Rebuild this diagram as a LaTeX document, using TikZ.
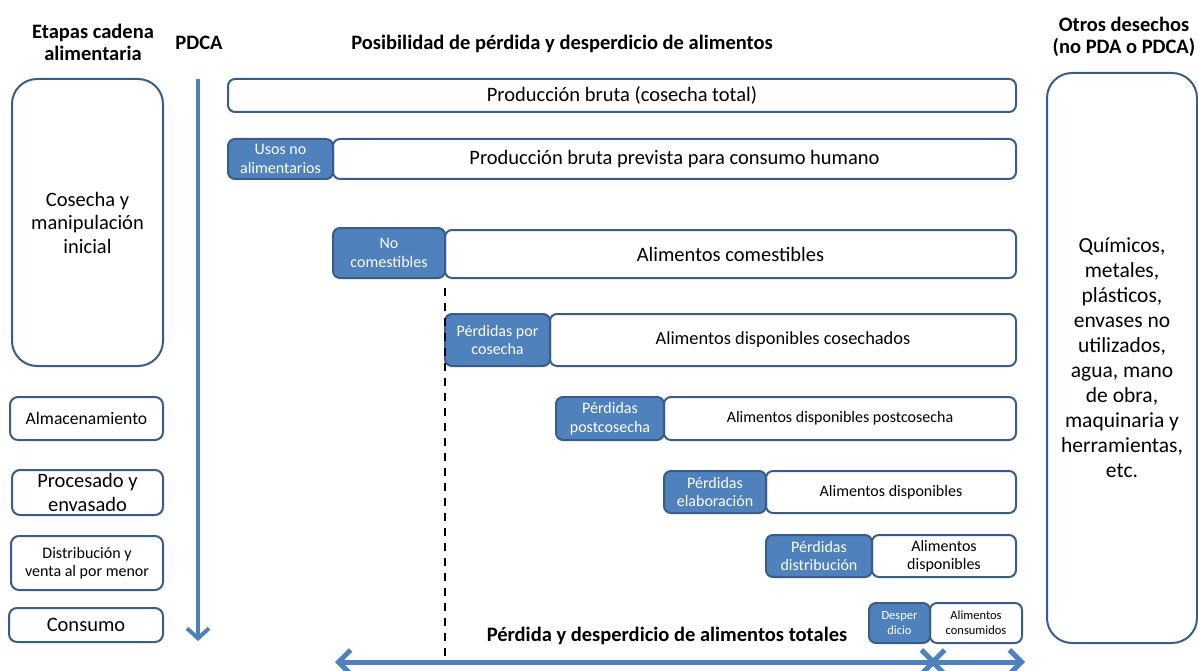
\documentclass[tikz,border=0pt]{standalone}
\usepackage{fontspec}
\setmainfont{Carlito}
\usepackage{tikz}
\usetikzlibrary{arrows.meta, positioning}
\usepackage{xcolor}
\definecolor{steelblue}{RGB}{79,129,189}
\definecolor{darksteelblue}{RGB}{56,93,138}
\tikzset{whitebarnode/.style={rectangle, rounded corners=7pt, fill=white, draw=darksteelblue, line width=2pt, inner sep=0pt, align=center},bluebarnode/.style={rectangle, rounded corners=7pt, fill=steelblue, draw=darksteelblue, line width=2pt, inner sep=0pt, align=center, text=white}}
\tikzset{stagenode/.style={rectangle, rounded corners=8pt, fill=white, draw=darksteelblue, line width=2pt, inner sep=0pt, align=center}}
\newcommand{\titlefont}{\fontsize{20.5}{22}\selectfont\bfseries}
\newcommand{\bigfont}{\fontsize{20.5}{23.5}\selectfont}
\newcommand{\rightfont}{\fontsize{21.5}{25}\selectfont}
\newcommand{\stagefont}{\fontsize{17.6}{20}\selectfont}
\newcommand{\midfont}{\fontsize{18.4}{21}\selectfont}
\newcommand{\smallfont}{\fontsize{16}{18.5}\selectfont}
\newcommand{\tinyfont}{\fontsize{12.5}{15}\selectfont}

\begin{document}
\begin{tikzpicture}[
        x=1pt, y=-1pt,
        line join=round,
        pdcaarrow/.style={steelblue, line width=4pt, -{Straight Barb[length=10pt, width=22pt]}},
        totalarrow/.style={steelblue, line width=5pt, {Straight Barb[length=12pt, width=24pt]}-{Straight Barb[length=12pt, width=24pt]}},
        edibleline/.style={black, line width=2pt, dash pattern=on 8pt off 7pt},
    ]
        \useasboundingbox (0,0) rectangle (1198,671);
        % Headers
        \node[font=\titlefont, align=center] (stagehead) at (93,42) {Etapas cadena\\alimentaria};
        \node[font=\titlefont] (pdcahead) at (199,43) {PDCA};
        \node[font=\titlefont] (losshead) at (562,44) {Posibilidad de pérdida y desperdicio de alimentos};
        \node[font=\titlefont, align=center] (otherhead) at (1124,37) {Otros desechos\\(no PDA o PDCA)};
        % Stages
        \node[stagenode, minimum width=151pt, minimum height=287pt, rounded corners=25pt, font=\bigfont] (harvest) at (87.5,222.5) {Cosecha y\\manipulación\\inicial};
        \node[stagenode, minimum width=153pt, minimum height=43pt, font=\stagefont] (storage) at (86.5,418.5) {Almacenamiento};
        \node[stagenode, minimum width=151pt, minimum height=45pt, font=\bigfont] (processing) at (87.5,492.5) {Procesado y\\envasado};
        \node[stagenode, minimum width=152pt, minimum height=54pt, font=\smallfont] (retail) at (87,563) {Distribución y\\venta al por menor};
        \node[stagenode, minimum width=154pt, minimum height=34pt, font=\bigfont] (consumption) at (86,625) {Consumo};
        % PDCA arrow
        \coordinate (pdcastart) at (198,79);
        \coordinate (pdcaend) at (198,641);
        \draw[pdcaarrow] (pdcastart) -- (pdcaend);
        % Bars
        \node[whitebarnode, minimum width=788pt, minimum height=33pt, font=\bigfont] (grossprod) at (622,95.5) {Producción bruta (cosecha total)};
        \node[whitebarnode, minimum width=683pt, minimum height=40pt, font=\bigfont] (humanprod) at (674.5,159) {Producción bruta prevista para consumo humano};
        \node[bluebarnode, minimum width=105pt, minimum height=40pt, font=\smallfont] (nonfood) at (280.5,159) {Usos no\\alimentarios};
        \node[whitebarnode, minimum width=571pt, minimum height=48pt, font=\bigfont] (edible) at (730.5,254) {Alimentos comestibles};
        \node[bluebarnode, minimum width=112pt, minimum height=50pt, font=\smallfont] (inedible) at (389,253) {No\\comestibles};
        \node[whitebarnode, minimum width=466pt, minimum height=52pt, font=\midfont] (harvested) at (783,340) {Alimentos disponibles cosechados};
        \node[bluebarnode, minimum width=105pt, minimum height=52pt, font=\smallfont] (harvestloss) at (497.5,340) {Pérdidas por\\cosecha};
        \node[whitebarnode, minimum width=352pt, minimum height=43pt, font=\smallfont] (postharvest) at (840,418.5) {Alimentos disponibles postcosecha};
        \node[bluebarnode, minimum width=108pt, minimum height=43pt, font=\smallfont] (postharvestloss) at (610,418.5) {Pérdidas\\postcosecha};
        \node[whitebarnode, minimum width=250pt, minimum height=42pt, font=\smallfont] (processed) at (891,492) {Alimentos disponibles};
        \node[bluebarnode, minimum width=102pt, minimum height=42pt, font=\smallfont] (processloss) at (715,492) {Pérdidas\\elaboración};
        \node[whitebarnode, minimum width=144pt, minimum height=42pt, font=\smallfont] (distributed) at (944,556) {Alimentos\\disponibles};
        \node[bluebarnode, minimum width=106pt, minimum height=42pt, font=\smallfont] (distloss) at (819,556) {Pérdidas\\distribución};
        \node[whitebarnode, minimum width=92pt, minimum height=40pt, font=\tinyfont] (consumed) at (976,623) {Alimentos\\consumidos};
        \node[bluebarnode, minimum width=61pt, minimum height=40pt, font=\tinyfont] (waste) at (899.5,623) {Desper\\dicio};
        % Other waste
        \node[stagenode, minimum width=150pt, minimum height=570pt, rounded corners=25pt, font=\rightfont] (otherwaste) at (1122,358) {Químicos,\\metales,\\plásticos,\\envases no\\utilizados,\\agua, mano\\de obra,\\maquinaria y\\herramientas,\\etc.};
        % Totals
        \node[font=\titlefont] (totalloss) at (667,636) {Pérdida y desperdicio de alimentos totales};
        \coordinate (ediblestart) at (445,288);
        \coordinate (edibleend) at (445,660);
        \draw[edibleline] (ediblestart) -- (edibleend);
        \coordinate (lossleft) at (335,662);
        \coordinate (lossright) at (937,662);
        \coordinate (consleft) at (929,662);
        \coordinate (consright) at (1025,662);
        \draw[totalarrow] (lossleft) -- (lossright);
        \draw[totalarrow] (consleft) -- (consright);
    \end{tikzpicture}
\end{document}
